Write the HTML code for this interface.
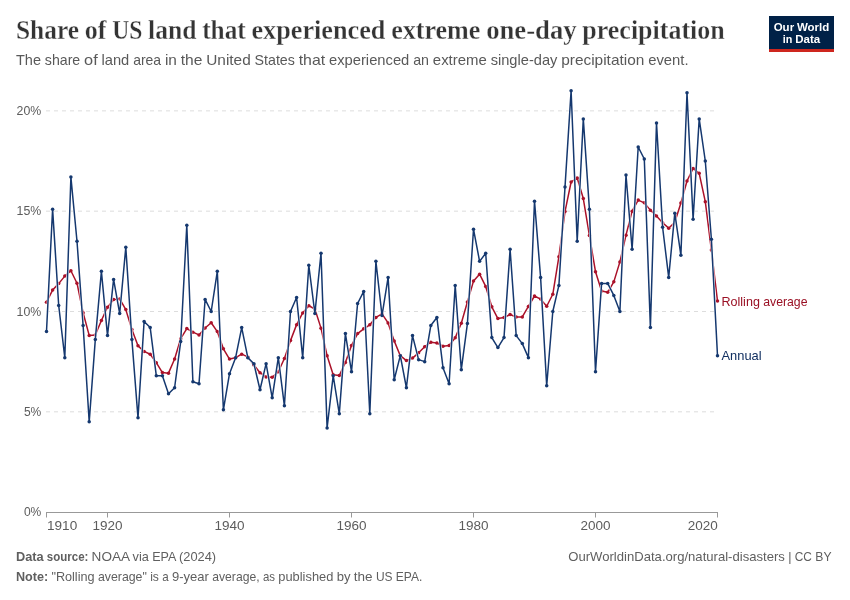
<!DOCTYPE html>
<html lang="en">
<head>
<meta charset="utf-8">
<title>Share of US land that experienced extreme one-day precipitation</title>
<style>
html,body{margin:0;padding:0;background:#ffffff;}
body{width:850px;height:600px;overflow:hidden;font-family:"Liberation Sans",sans-serif;}
svg{display:block;}
</style>
</head>
<body>
<svg width="850" height="600" viewBox="0 0 850 600">
<rect x="0" y="0" width="850" height="600" fill="#ffffff"/>
<line x1="46" x2="717.5" y1="411.82" y2="411.82" stroke="#dddddd" stroke-width="1" stroke-dasharray="4 4"/>
<line x1="46" x2="717.5" y1="311.50" y2="311.50" stroke="#dddddd" stroke-width="1" stroke-dasharray="4 4"/>
<line x1="46" x2="717.5" y1="211.17" y2="211.17" stroke="#dddddd" stroke-width="1" stroke-dasharray="4 4"/>
<line x1="46" x2="717.5" y1="110.85" y2="110.85" stroke="#dddddd" stroke-width="1" stroke-dasharray="4 4"/>
<text y="516.25" font-family='"Liberation Sans", sans-serif' font-size="13.4" font-weight="normal" fill="#5c5c5c"><tspan x="23.90" textLength="17.40" lengthAdjust="spacingAndGlyphs">0%</tspan></text>
<text y="415.93" font-family='"Liberation Sans", sans-serif' font-size="13.4" font-weight="normal" fill="#5c5c5c"><tspan x="23.90" textLength="17.40" lengthAdjust="spacingAndGlyphs">5%</tspan></text>
<text y="315.60" font-family='"Liberation Sans", sans-serif' font-size="13.4" font-weight="normal" fill="#5c5c5c"><tspan x="16.60" textLength="24.70" lengthAdjust="spacingAndGlyphs">10%</tspan></text>
<text y="215.27" font-family='"Liberation Sans", sans-serif' font-size="13.4" font-weight="normal" fill="#5c5c5c"><tspan x="16.60" textLength="24.70" lengthAdjust="spacingAndGlyphs">15%</tspan></text>
<text y="114.95" font-family='"Liberation Sans", sans-serif' font-size="13.4" font-weight="normal" fill="#5c5c5c"><tspan x="16.60" textLength="24.70" lengthAdjust="spacingAndGlyphs">20%</tspan></text>
<line x1="46" x2="718" y1="512.5" y2="512.5" stroke="#999999" stroke-width="1"/>
<line x1="46.50" x2="46.50" y1="512.5" y2="517.5" stroke="#999999" stroke-width="1"/>
<text y="530.4" font-family='"Liberation Sans", sans-serif' font-size="13.4" font-weight="normal" fill="#5c5c5c"><tspan x="47.00" textLength="30.24" lengthAdjust="spacingAndGlyphs">1910</tspan></text>
<line x1="107.50" x2="107.50" y1="512.5" y2="517.5" stroke="#999999" stroke-width="1"/>
<text y="530.4" font-family='"Liberation Sans", sans-serif' font-size="13.4" font-weight="normal" fill="#5c5c5c"><tspan x="92.45" textLength="30.09" lengthAdjust="spacingAndGlyphs">1920</tspan></text>
<line x1="229.50" x2="229.50" y1="512.5" y2="517.5" stroke="#999999" stroke-width="1"/>
<text y="530.4" font-family='"Liberation Sans", sans-serif' font-size="13.4" font-weight="normal" fill="#5c5c5c"><tspan x="214.45" textLength="30.09" lengthAdjust="spacingAndGlyphs">1940</tspan></text>
<line x1="351.50" x2="351.50" y1="512.5" y2="517.5" stroke="#999999" stroke-width="1"/>
<text y="530.4" font-family='"Liberation Sans", sans-serif' font-size="13.4" font-weight="normal" fill="#5c5c5c"><tspan x="336.45" textLength="30.09" lengthAdjust="spacingAndGlyphs">1960</tspan></text>
<line x1="473.50" x2="473.50" y1="512.5" y2="517.5" stroke="#999999" stroke-width="1"/>
<text y="530.4" font-family='"Liberation Sans", sans-serif' font-size="13.4" font-weight="normal" fill="#5c5c5c"><tspan x="458.45" textLength="30.09" lengthAdjust="spacingAndGlyphs">1980</tspan></text>
<line x1="595.50" x2="595.50" y1="512.5" y2="517.5" stroke="#999999" stroke-width="1"/>
<text y="530.4" font-family='"Liberation Sans", sans-serif' font-size="13.4" font-weight="normal" fill="#5c5c5c"><tspan x="580.45" textLength="30.09" lengthAdjust="spacingAndGlyphs">2000</tspan></text>
<line x1="717.50" x2="717.50" y1="512.5" y2="517.5" stroke="#999999" stroke-width="1"/>
<text y="530.4" font-family='"Liberation Sans", sans-serif' font-size="13.4" font-weight="normal" fill="#5c5c5c"><tspan x="687.66" textLength="30.09" lengthAdjust="spacingAndGlyphs">2020</tspan></text>
<polyline fill="none" stroke="#ffffff" stroke-width="2.5" stroke-linejoin="round" stroke-linecap="round" points="46.50,302.15 52.60,290.06 58.70,283.62 64.80,276.10 70.90,270.79 77.00,283.21 83.10,312.75 89.20,335.43 95.30,335.00 101.40,320.47 107.50,307.18 113.60,299.62 119.70,298.90 125.80,309.62 131.90,329.56 138.00,345.85 144.10,351.44 150.20,354.28 156.30,362.64 162.40,372.53 168.50,373.15 174.60,359.06 180.70,338.68 186.80,328.54 192.90,332.15 199.00,334.91 205.10,328.04 211.20,322.72 217.30,331.56 223.40,348.85 229.50,359.08 235.60,357.72 241.70,354.15 247.80,356.94 253.90,365.00 260.00,372.70 266.10,376.96 272.20,377.23 278.30,371.72 284.40,358.48 290.50,340.62 296.60,324.64 302.70,312.93 308.80,305.77 314.90,308.97 321.00,328.13 327.10,355.71 333.20,374.68 339.30,375.53 345.40,362.41 351.50,345.49 357.60,333.59 363.70,328.82 369.80,324.85 375.90,317.41 382.00,313.84 388.10,322.91 394.20,340.90 400.30,355.71 406.40,360.57 412.50,358.07 418.60,352.84 424.70,346.71 430.80,342.25 436.90,342.91 443.00,346.28 449.10,345.55 455.20,337.84 461.30,323.23 467.40,301.95 473.50,281.09 479.60,274.18 485.70,286.45 491.80,306.80 497.90,318.61 504.00,317.58 510.10,314.53 516.20,317.05 522.30,316.95 528.40,306.38 534.50,296.00 540.60,299.12 546.70,306.23 552.80,294.26 558.90,256.69 565.00,211.58 571.10,181.98 577.20,178.04 583.30,198.55 589.40,235.47 595.50,271.73 601.60,291.07 607.70,292.29 613.80,281.86 619.90,261.89 626.00,235.14 632.10,211.13 638.20,200.09 644.30,202.86 650.40,210.13 656.50,215.92 662.60,222.72 668.70,228.17 674.80,222.26 680.90,202.98 687.00,181.01 693.10,168.39 699.20,173.31 705.30,201.64 711.40,250.06 717.50,300.97"/>
<polyline fill="none" stroke="#aa1129" stroke-width="1.5" stroke-linejoin="round" stroke-linecap="round" points="46.50,302.15 52.60,290.06 58.70,283.62 64.80,276.10 70.90,270.79 77.00,283.21 83.10,312.75 89.20,335.43 95.30,335.00 101.40,320.47 107.50,307.18 113.60,299.62 119.70,298.90 125.80,309.62 131.90,329.56 138.00,345.85 144.10,351.44 150.20,354.28 156.30,362.64 162.40,372.53 168.50,373.15 174.60,359.06 180.70,338.68 186.80,328.54 192.90,332.15 199.00,334.91 205.10,328.04 211.20,322.72 217.30,331.56 223.40,348.85 229.50,359.08 235.60,357.72 241.70,354.15 247.80,356.94 253.90,365.00 260.00,372.70 266.10,376.96 272.20,377.23 278.30,371.72 284.40,358.48 290.50,340.62 296.60,324.64 302.70,312.93 308.80,305.77 314.90,308.97 321.00,328.13 327.10,355.71 333.20,374.68 339.30,375.53 345.40,362.41 351.50,345.49 357.60,333.59 363.70,328.82 369.80,324.85 375.90,317.41 382.00,313.84 388.10,322.91 394.20,340.90 400.30,355.71 406.40,360.57 412.50,358.07 418.60,352.84 424.70,346.71 430.80,342.25 436.90,342.91 443.00,346.28 449.10,345.55 455.20,337.84 461.30,323.23 467.40,301.95 473.50,281.09 479.60,274.18 485.70,286.45 491.80,306.80 497.90,318.61 504.00,317.58 510.10,314.53 516.20,317.05 522.30,316.95 528.40,306.38 534.50,296.00 540.60,299.12 546.70,306.23 552.80,294.26 558.90,256.69 565.00,211.58 571.10,181.98 577.20,178.04 583.30,198.55 589.40,235.47 595.50,271.73 601.60,291.07 607.70,292.29 613.80,281.86 619.90,261.89 626.00,235.14 632.10,211.13 638.20,200.09 644.30,202.86 650.40,210.13 656.50,215.92 662.60,222.72 668.70,228.17 674.80,222.26 680.90,202.98 687.00,181.01 693.10,168.39 699.20,173.31 705.30,201.64 711.40,250.06 717.50,300.97"/>
<g fill="#aa1129"><circle cx="46.50" cy="302.15" r="1.75"/><circle cx="52.60" cy="290.06" r="1.75"/><circle cx="58.70" cy="283.62" r="1.75"/><circle cx="64.80" cy="276.10" r="1.75"/><circle cx="70.90" cy="270.79" r="1.75"/><circle cx="77.00" cy="283.21" r="1.75"/><circle cx="83.10" cy="312.75" r="1.75"/><circle cx="89.20" cy="335.43" r="1.75"/><circle cx="95.30" cy="335.00" r="1.75"/><circle cx="101.40" cy="320.47" r="1.75"/><circle cx="107.50" cy="307.18" r="1.75"/><circle cx="113.60" cy="299.62" r="1.75"/><circle cx="119.70" cy="298.90" r="1.75"/><circle cx="125.80" cy="309.62" r="1.75"/><circle cx="131.90" cy="329.56" r="1.75"/><circle cx="138.00" cy="345.85" r="1.75"/><circle cx="144.10" cy="351.44" r="1.75"/><circle cx="150.20" cy="354.28" r="1.75"/><circle cx="156.30" cy="362.64" r="1.75"/><circle cx="162.40" cy="372.53" r="1.75"/><circle cx="168.50" cy="373.15" r="1.75"/><circle cx="174.60" cy="359.06" r="1.75"/><circle cx="180.70" cy="338.68" r="1.75"/><circle cx="186.80" cy="328.54" r="1.75"/><circle cx="192.90" cy="332.15" r="1.75"/><circle cx="199.00" cy="334.91" r="1.75"/><circle cx="205.10" cy="328.04" r="1.75"/><circle cx="211.20" cy="322.72" r="1.75"/><circle cx="217.30" cy="331.56" r="1.75"/><circle cx="223.40" cy="348.85" r="1.75"/><circle cx="229.50" cy="359.08" r="1.75"/><circle cx="235.60" cy="357.72" r="1.75"/><circle cx="241.70" cy="354.15" r="1.75"/><circle cx="247.80" cy="356.94" r="1.75"/><circle cx="253.90" cy="365.00" r="1.75"/><circle cx="260.00" cy="372.70" r="1.75"/><circle cx="266.10" cy="376.96" r="1.75"/><circle cx="272.20" cy="377.23" r="1.75"/><circle cx="278.30" cy="371.72" r="1.75"/><circle cx="284.40" cy="358.48" r="1.75"/><circle cx="290.50" cy="340.62" r="1.75"/><circle cx="296.60" cy="324.64" r="1.75"/><circle cx="302.70" cy="312.93" r="1.75"/><circle cx="308.80" cy="305.77" r="1.75"/><circle cx="314.90" cy="308.97" r="1.75"/><circle cx="321.00" cy="328.13" r="1.75"/><circle cx="327.10" cy="355.71" r="1.75"/><circle cx="333.20" cy="374.68" r="1.75"/><circle cx="339.30" cy="375.53" r="1.75"/><circle cx="345.40" cy="362.41" r="1.75"/><circle cx="351.50" cy="345.49" r="1.75"/><circle cx="357.60" cy="333.59" r="1.75"/><circle cx="363.70" cy="328.82" r="1.75"/><circle cx="369.80" cy="324.85" r="1.75"/><circle cx="375.90" cy="317.41" r="1.75"/><circle cx="382.00" cy="313.84" r="1.75"/><circle cx="388.10" cy="322.91" r="1.75"/><circle cx="394.20" cy="340.90" r="1.75"/><circle cx="400.30" cy="355.71" r="1.75"/><circle cx="406.40" cy="360.57" r="1.75"/><circle cx="412.50" cy="358.07" r="1.75"/><circle cx="418.60" cy="352.84" r="1.75"/><circle cx="424.70" cy="346.71" r="1.75"/><circle cx="430.80" cy="342.25" r="1.75"/><circle cx="436.90" cy="342.91" r="1.75"/><circle cx="443.00" cy="346.28" r="1.75"/><circle cx="449.10" cy="345.55" r="1.75"/><circle cx="455.20" cy="337.84" r="1.75"/><circle cx="461.30" cy="323.23" r="1.75"/><circle cx="467.40" cy="301.95" r="1.75"/><circle cx="473.50" cy="281.09" r="1.75"/><circle cx="479.60" cy="274.18" r="1.75"/><circle cx="485.70" cy="286.45" r="1.75"/><circle cx="491.80" cy="306.80" r="1.75"/><circle cx="497.90" cy="318.61" r="1.75"/><circle cx="504.00" cy="317.58" r="1.75"/><circle cx="510.10" cy="314.53" r="1.75"/><circle cx="516.20" cy="317.05" r="1.75"/><circle cx="522.30" cy="316.95" r="1.75"/><circle cx="528.40" cy="306.38" r="1.75"/><circle cx="534.50" cy="296.00" r="1.75"/><circle cx="540.60" cy="299.12" r="1.75"/><circle cx="546.70" cy="306.23" r="1.75"/><circle cx="552.80" cy="294.26" r="1.75"/><circle cx="558.90" cy="256.69" r="1.75"/><circle cx="565.00" cy="211.58" r="1.75"/><circle cx="571.10" cy="181.98" r="1.75"/><circle cx="577.20" cy="178.04" r="1.75"/><circle cx="583.30" cy="198.55" r="1.75"/><circle cx="589.40" cy="235.47" r="1.75"/><circle cx="595.50" cy="271.73" r="1.75"/><circle cx="601.60" cy="291.07" r="1.75"/><circle cx="607.70" cy="292.29" r="1.75"/><circle cx="613.80" cy="281.86" r="1.75"/><circle cx="619.90" cy="261.89" r="1.75"/><circle cx="626.00" cy="235.14" r="1.75"/><circle cx="632.10" cy="211.13" r="1.75"/><circle cx="638.20" cy="200.09" r="1.75"/><circle cx="644.30" cy="202.86" r="1.75"/><circle cx="650.40" cy="210.13" r="1.75"/><circle cx="656.50" cy="215.92" r="1.75"/><circle cx="662.60" cy="222.72" r="1.75"/><circle cx="668.70" cy="228.17" r="1.75"/><circle cx="674.80" cy="222.26" r="1.75"/><circle cx="680.90" cy="202.98" r="1.75"/><circle cx="687.00" cy="181.01" r="1.75"/><circle cx="693.10" cy="168.39" r="1.75"/><circle cx="699.20" cy="173.31" r="1.75"/><circle cx="705.30" cy="201.64" r="1.75"/><circle cx="711.40" cy="250.06" r="1.75"/><circle cx="717.50" cy="300.97" r="1.75"/></g>
<polyline fill="none" stroke="#ffffff" stroke-width="2.5" stroke-linejoin="round" stroke-linecap="round" points="46.50,331.56 52.60,209.17 58.70,305.48 64.80,357.65 70.90,177.06 77.00,241.27 83.10,325.55 89.20,421.86 95.30,339.59 101.40,271.37 107.50,335.58 113.60,279.40 119.70,313.51 125.80,247.29 131.90,339.59 138.00,417.84 144.10,321.53 150.20,327.55 156.30,375.71 162.40,375.71 168.50,393.77 174.60,387.75 180.70,341.60 186.80,225.22 192.90,381.73 199.00,383.73 205.10,299.46 211.20,311.50 217.30,271.37 223.40,409.82 229.50,373.70 235.60,357.65 241.70,327.55 247.80,357.65 253.90,363.67 260.00,389.75 266.10,363.67 272.20,397.78 278.30,357.65 284.40,405.81 290.50,311.50 296.60,297.45 302.70,357.65 308.80,265.35 314.90,313.51 321.00,253.31 327.10,427.88 333.20,375.71 339.30,413.83 345.40,333.57 351.50,371.69 357.60,303.47 363.70,291.43 369.80,413.83 375.90,261.34 382.00,315.51 388.10,277.39 394.20,379.72 400.30,355.64 406.40,387.75 412.50,335.58 418.60,359.66 424.70,361.66 430.80,325.55 436.90,317.52 443.00,367.68 449.10,383.73 455.20,285.42 461.30,369.69 467.40,323.54 473.50,229.23 479.60,261.34 485.70,253.31 491.80,337.58 497.90,347.62 504.00,337.58 510.10,249.30 516.20,335.58 522.30,343.60 528.40,357.65 534.50,201.14 540.60,277.39 546.70,385.74 552.80,311.50 558.90,285.42 565.00,187.10 571.10,90.78 577.20,241.27 583.30,118.88 589.40,209.17 595.50,371.69 601.60,283.41 607.70,283.41 613.80,295.45 619.90,311.50 626.00,175.06 632.10,249.30 638.20,146.97 644.30,159.01 650.40,327.55 656.50,122.89 662.60,227.23 668.70,277.39 674.80,213.18 680.90,255.32 687.00,92.79 693.10,219.20 699.20,118.88 705.30,161.01 711.40,239.27 717.50,355.64"/>
<polyline fill="none" stroke="#15386f" stroke-width="1.5" stroke-linejoin="round" stroke-linecap="round" points="46.50,331.56 52.60,209.17 58.70,305.48 64.80,357.65 70.90,177.06 77.00,241.27 83.10,325.55 89.20,421.86 95.30,339.59 101.40,271.37 107.50,335.58 113.60,279.40 119.70,313.51 125.80,247.29 131.90,339.59 138.00,417.84 144.10,321.53 150.20,327.55 156.30,375.71 162.40,375.71 168.50,393.77 174.60,387.75 180.70,341.60 186.80,225.22 192.90,381.73 199.00,383.73 205.10,299.46 211.20,311.50 217.30,271.37 223.40,409.82 229.50,373.70 235.60,357.65 241.70,327.55 247.80,357.65 253.90,363.67 260.00,389.75 266.10,363.67 272.20,397.78 278.30,357.65 284.40,405.81 290.50,311.50 296.60,297.45 302.70,357.65 308.80,265.35 314.90,313.51 321.00,253.31 327.10,427.88 333.20,375.71 339.30,413.83 345.40,333.57 351.50,371.69 357.60,303.47 363.70,291.43 369.80,413.83 375.90,261.34 382.00,315.51 388.10,277.39 394.20,379.72 400.30,355.64 406.40,387.75 412.50,335.58 418.60,359.66 424.70,361.66 430.80,325.55 436.90,317.52 443.00,367.68 449.10,383.73 455.20,285.42 461.30,369.69 467.40,323.54 473.50,229.23 479.60,261.34 485.70,253.31 491.80,337.58 497.90,347.62 504.00,337.58 510.10,249.30 516.20,335.58 522.30,343.60 528.40,357.65 534.50,201.14 540.60,277.39 546.70,385.74 552.80,311.50 558.90,285.42 565.00,187.10 571.10,90.78 577.20,241.27 583.30,118.88 589.40,209.17 595.50,371.69 601.60,283.41 607.70,283.41 613.80,295.45 619.90,311.50 626.00,175.06 632.10,249.30 638.20,146.97 644.30,159.01 650.40,327.55 656.50,122.89 662.60,227.23 668.70,277.39 674.80,213.18 680.90,255.32 687.00,92.79 693.10,219.20 699.20,118.88 705.30,161.01 711.40,239.27 717.50,355.64"/>
<g fill="#15386f"><circle cx="46.50" cy="331.56" r="1.75"/><circle cx="52.60" cy="209.17" r="1.75"/><circle cx="58.70" cy="305.48" r="1.75"/><circle cx="64.80" cy="357.65" r="1.75"/><circle cx="70.90" cy="177.06" r="1.75"/><circle cx="77.00" cy="241.27" r="1.75"/><circle cx="83.10" cy="325.55" r="1.75"/><circle cx="89.20" cy="421.86" r="1.75"/><circle cx="95.30" cy="339.59" r="1.75"/><circle cx="101.40" cy="271.37" r="1.75"/><circle cx="107.50" cy="335.58" r="1.75"/><circle cx="113.60" cy="279.40" r="1.75"/><circle cx="119.70" cy="313.51" r="1.75"/><circle cx="125.80" cy="247.29" r="1.75"/><circle cx="131.90" cy="339.59" r="1.75"/><circle cx="138.00" cy="417.84" r="1.75"/><circle cx="144.10" cy="321.53" r="1.75"/><circle cx="150.20" cy="327.55" r="1.75"/><circle cx="156.30" cy="375.71" r="1.75"/><circle cx="162.40" cy="375.71" r="1.75"/><circle cx="168.50" cy="393.77" r="1.75"/><circle cx="174.60" cy="387.75" r="1.75"/><circle cx="180.70" cy="341.60" r="1.75"/><circle cx="186.80" cy="225.22" r="1.75"/><circle cx="192.90" cy="381.73" r="1.75"/><circle cx="199.00" cy="383.73" r="1.75"/><circle cx="205.10" cy="299.46" r="1.75"/><circle cx="211.20" cy="311.50" r="1.75"/><circle cx="217.30" cy="271.37" r="1.75"/><circle cx="223.40" cy="409.82" r="1.75"/><circle cx="229.50" cy="373.70" r="1.75"/><circle cx="235.60" cy="357.65" r="1.75"/><circle cx="241.70" cy="327.55" r="1.75"/><circle cx="247.80" cy="357.65" r="1.75"/><circle cx="253.90" cy="363.67" r="1.75"/><circle cx="260.00" cy="389.75" r="1.75"/><circle cx="266.10" cy="363.67" r="1.75"/><circle cx="272.20" cy="397.78" r="1.75"/><circle cx="278.30" cy="357.65" r="1.75"/><circle cx="284.40" cy="405.81" r="1.75"/><circle cx="290.50" cy="311.50" r="1.75"/><circle cx="296.60" cy="297.45" r="1.75"/><circle cx="302.70" cy="357.65" r="1.75"/><circle cx="308.80" cy="265.35" r="1.75"/><circle cx="314.90" cy="313.51" r="1.75"/><circle cx="321.00" cy="253.31" r="1.75"/><circle cx="327.10" cy="427.88" r="1.75"/><circle cx="333.20" cy="375.71" r="1.75"/><circle cx="339.30" cy="413.83" r="1.75"/><circle cx="345.40" cy="333.57" r="1.75"/><circle cx="351.50" cy="371.69" r="1.75"/><circle cx="357.60" cy="303.47" r="1.75"/><circle cx="363.70" cy="291.43" r="1.75"/><circle cx="369.80" cy="413.83" r="1.75"/><circle cx="375.90" cy="261.34" r="1.75"/><circle cx="382.00" cy="315.51" r="1.75"/><circle cx="388.10" cy="277.39" r="1.75"/><circle cx="394.20" cy="379.72" r="1.75"/><circle cx="400.30" cy="355.64" r="1.75"/><circle cx="406.40" cy="387.75" r="1.75"/><circle cx="412.50" cy="335.58" r="1.75"/><circle cx="418.60" cy="359.66" r="1.75"/><circle cx="424.70" cy="361.66" r="1.75"/><circle cx="430.80" cy="325.55" r="1.75"/><circle cx="436.90" cy="317.52" r="1.75"/><circle cx="443.00" cy="367.68" r="1.75"/><circle cx="449.10" cy="383.73" r="1.75"/><circle cx="455.20" cy="285.42" r="1.75"/><circle cx="461.30" cy="369.69" r="1.75"/><circle cx="467.40" cy="323.54" r="1.75"/><circle cx="473.50" cy="229.23" r="1.75"/><circle cx="479.60" cy="261.34" r="1.75"/><circle cx="485.70" cy="253.31" r="1.75"/><circle cx="491.80" cy="337.58" r="1.75"/><circle cx="497.90" cy="347.62" r="1.75"/><circle cx="504.00" cy="337.58" r="1.75"/><circle cx="510.10" cy="249.30" r="1.75"/><circle cx="516.20" cy="335.58" r="1.75"/><circle cx="522.30" cy="343.60" r="1.75"/><circle cx="528.40" cy="357.65" r="1.75"/><circle cx="534.50" cy="201.14" r="1.75"/><circle cx="540.60" cy="277.39" r="1.75"/><circle cx="546.70" cy="385.74" r="1.75"/><circle cx="552.80" cy="311.50" r="1.75"/><circle cx="558.90" cy="285.42" r="1.75"/><circle cx="565.00" cy="187.10" r="1.75"/><circle cx="571.10" cy="90.78" r="1.75"/><circle cx="577.20" cy="241.27" r="1.75"/><circle cx="583.30" cy="118.88" r="1.75"/><circle cx="589.40" cy="209.17" r="1.75"/><circle cx="595.50" cy="371.69" r="1.75"/><circle cx="601.60" cy="283.41" r="1.75"/><circle cx="607.70" cy="283.41" r="1.75"/><circle cx="613.80" cy="295.45" r="1.75"/><circle cx="619.90" cy="311.50" r="1.75"/><circle cx="626.00" cy="175.06" r="1.75"/><circle cx="632.10" cy="249.30" r="1.75"/><circle cx="638.20" cy="146.97" r="1.75"/><circle cx="644.30" cy="159.01" r="1.75"/><circle cx="650.40" cy="327.55" r="1.75"/><circle cx="656.50" cy="122.89" r="1.75"/><circle cx="662.60" cy="227.23" r="1.75"/><circle cx="668.70" cy="277.39" r="1.75"/><circle cx="674.80" cy="213.18" r="1.75"/><circle cx="680.90" cy="255.32" r="1.75"/><circle cx="687.00" cy="92.79" r="1.75"/><circle cx="693.10" cy="219.20" r="1.75"/><circle cx="699.20" cy="118.88" r="1.75"/><circle cx="705.30" cy="161.01" r="1.75"/><circle cx="711.40" cy="239.27" r="1.75"/><circle cx="717.50" cy="355.64" r="1.75"/></g>
<text y="305.8" font-family='"Liberation Sans", sans-serif' font-size="13.0" font-weight="normal" fill="#9a1024"><tspan x="721.50" textLength="38.36" lengthAdjust="spacingAndGlyphs">Rolling</tspan> <tspan x="763.19" textLength="44.32" lengthAdjust="spacingAndGlyphs">average</tspan></text>
<text y="360.0" font-family='"Liberation Sans", sans-serif' font-size="13.0" font-weight="normal" fill="#112f60"><tspan x="721.50" textLength="40.06" lengthAdjust="spacingAndGlyphs">Annual</tspan></text>
<text y="39" font-family='"Liberation Serif", serif' font-size="27" font-weight="bold" fill="#343434" stroke="#ffffff" stroke-width="0.3"><tspan x="16.00" textLength="63.03" lengthAdjust="spacingAndGlyphs">Share</tspan> <tspan x="84.77" textLength="21.70" lengthAdjust="spacingAndGlyphs">of</tspan> <tspan x="112.20" textLength="30.12" lengthAdjust="spacingAndGlyphs">US</tspan> <tspan x="148.06" textLength="48.34" lengthAdjust="spacingAndGlyphs">land</tspan> <tspan x="202.13" textLength="43.61" lengthAdjust="spacingAndGlyphs">that</tspan> <tspan x="251.47" textLength="133.92" lengthAdjust="spacingAndGlyphs">experienced</tspan> <tspan x="391.13" textLength="89.28" lengthAdjust="spacingAndGlyphs">extreme</tspan> <tspan x="486.15" textLength="90.43" lengthAdjust="spacingAndGlyphs">one-day</tspan> <tspan x="582.32" textLength="142.39" lengthAdjust="spacingAndGlyphs">precipitation</tspan></text>
<text y="65.3" font-family='"Liberation Sans", sans-serif' font-size="15.0" font-weight="normal" fill="#595959"><tspan x="16.00" textLength="25.02" lengthAdjust="spacingAndGlyphs">The</tspan> <tspan x="44.86" textLength="35.39" lengthAdjust="spacingAndGlyphs">share</tspan> <tspan x="84.09" textLength="13.60" lengthAdjust="spacingAndGlyphs">of</tspan> <tspan x="101.53" textLength="27.76" lengthAdjust="spacingAndGlyphs">land</tspan> <tspan x="133.13" textLength="27.98" lengthAdjust="spacingAndGlyphs">area</tspan> <tspan x="164.96" textLength="11.97" lengthAdjust="spacingAndGlyphs">in</tspan> <tspan x="180.77" textLength="21.67" lengthAdjust="spacingAndGlyphs">the</tspan> <tspan x="206.27" textLength="44.44" lengthAdjust="spacingAndGlyphs">United</tspan> <tspan x="254.55" textLength="40.29" lengthAdjust="spacingAndGlyphs">States</tspan> <tspan x="298.68" textLength="26.48" lengthAdjust="spacingAndGlyphs">that</tspan> <tspan x="329.00" textLength="80.32" lengthAdjust="spacingAndGlyphs">experienced</tspan> <tspan x="413.16" textLength="15.82" lengthAdjust="spacingAndGlyphs">an</tspan> <tspan x="432.82" textLength="54.00" lengthAdjust="spacingAndGlyphs">extreme</tspan> <tspan x="490.66" textLength="66.70" lengthAdjust="spacingAndGlyphs">single-day</tspan> <tspan x="561.21" textLength="83.10" lengthAdjust="spacingAndGlyphs">precipitation</tspan> <tspan x="648.15" textLength="40.39" lengthAdjust="spacingAndGlyphs">event.</tspan></text>
<rect x="769" y="16" width="65" height="36" fill="#002147"/>
<rect x="769" y="49" width="65" height="3" fill="#ce261e"/>
<text y="30.7" font-family='"Liberation Sans", sans-serif' font-size="11.75" font-weight="bold" fill="#ffffff"><tspan x="773.68" textLength="20.43" lengthAdjust="spacingAndGlyphs">Our</tspan> <tspan x="796.96" textLength="32.35" lengthAdjust="spacingAndGlyphs">World</tspan></text>
<text y="42.6" font-family='"Liberation Sans", sans-serif' font-size="11.75" font-weight="bold" fill="#ffffff"><tspan x="782.76" textLength="9.61" lengthAdjust="spacingAndGlyphs">in</tspan> <tspan x="795.23" textLength="25.00" lengthAdjust="spacingAndGlyphs">Data</tspan></text>
<text y="561.2" font-family='"Liberation Sans", sans-serif' font-size="13.0" font-weight="bold" fill="#5f5f5f"><tspan x="16.00" textLength="27.66" lengthAdjust="spacingAndGlyphs">Data</tspan> <tspan x="46.82" textLength="41.61" lengthAdjust="spacingAndGlyphs">source:</tspan></text>
<text y="561.2" font-family='"Liberation Sans", sans-serif' font-size="13.0" font-weight="normal" fill="#5f5f5f"><tspan x="91.60" textLength="37.69" lengthAdjust="spacingAndGlyphs">NOAA</tspan> <tspan x="132.62" textLength="16.29" lengthAdjust="spacingAndGlyphs">via</tspan> <tspan x="152.23" textLength="23.47" lengthAdjust="spacingAndGlyphs">EPA</tspan> <tspan x="179.03" textLength="37.10" lengthAdjust="spacingAndGlyphs">(2024)</tspan></text>
<text y="561.2" font-family='"Liberation Sans", sans-serif' font-size="13.0" font-weight="normal" fill="#5f5f5f"><tspan x="568.31" textLength="216.54" lengthAdjust="spacingAndGlyphs">OurWorldinData.org/natural-disasters</tspan> <tspan x="788.18" textLength="3.26" lengthAdjust="spacingAndGlyphs">|</tspan> <tspan x="794.77" textLength="17.19" lengthAdjust="spacingAndGlyphs">CC</tspan> <tspan x="815.28" textLength="16.22" lengthAdjust="spacingAndGlyphs">BY</tspan></text>
<text y="581" font-family='"Liberation Sans", sans-serif' font-size="13.0" font-weight="bold" fill="#5f5f5f"><tspan x="16.00" textLength="32.23" lengthAdjust="spacingAndGlyphs">Note:</tspan></text>
<text y="581" font-family='"Liberation Sans", sans-serif' font-size="13.0" font-weight="normal" fill="#5f5f5f"><tspan x="51.40" textLength="43.18" lengthAdjust="spacingAndGlyphs">&quot;Rolling</tspan> <tspan x="97.91" textLength="48.91" lengthAdjust="spacingAndGlyphs">average&quot;</tspan> <tspan x="150.15" textLength="8.75" lengthAdjust="spacingAndGlyphs">is</tspan> <tspan x="162.23" textLength="6.46" lengthAdjust="spacingAndGlyphs">a</tspan> <tspan x="172.01" textLength="36.95" lengthAdjust="spacingAndGlyphs">9-year</tspan> <tspan x="212.29" textLength="47.27" lengthAdjust="spacingAndGlyphs">average,</tspan> <tspan x="262.89" textLength="12.09" lengthAdjust="spacingAndGlyphs">as</tspan> <tspan x="278.31" textLength="55.03" lengthAdjust="spacingAndGlyphs">published</tspan> <tspan x="336.67" textLength="13.81" lengthAdjust="spacingAndGlyphs">by</tspan> <tspan x="353.81" textLength="18.78" lengthAdjust="spacingAndGlyphs">the</tspan> <tspan x="375.91" textLength="16.61" lengthAdjust="spacingAndGlyphs">US</tspan> <tspan x="395.85" textLength="26.53" lengthAdjust="spacingAndGlyphs">EPA.</tspan></text>
</svg>
</body>
</html>
